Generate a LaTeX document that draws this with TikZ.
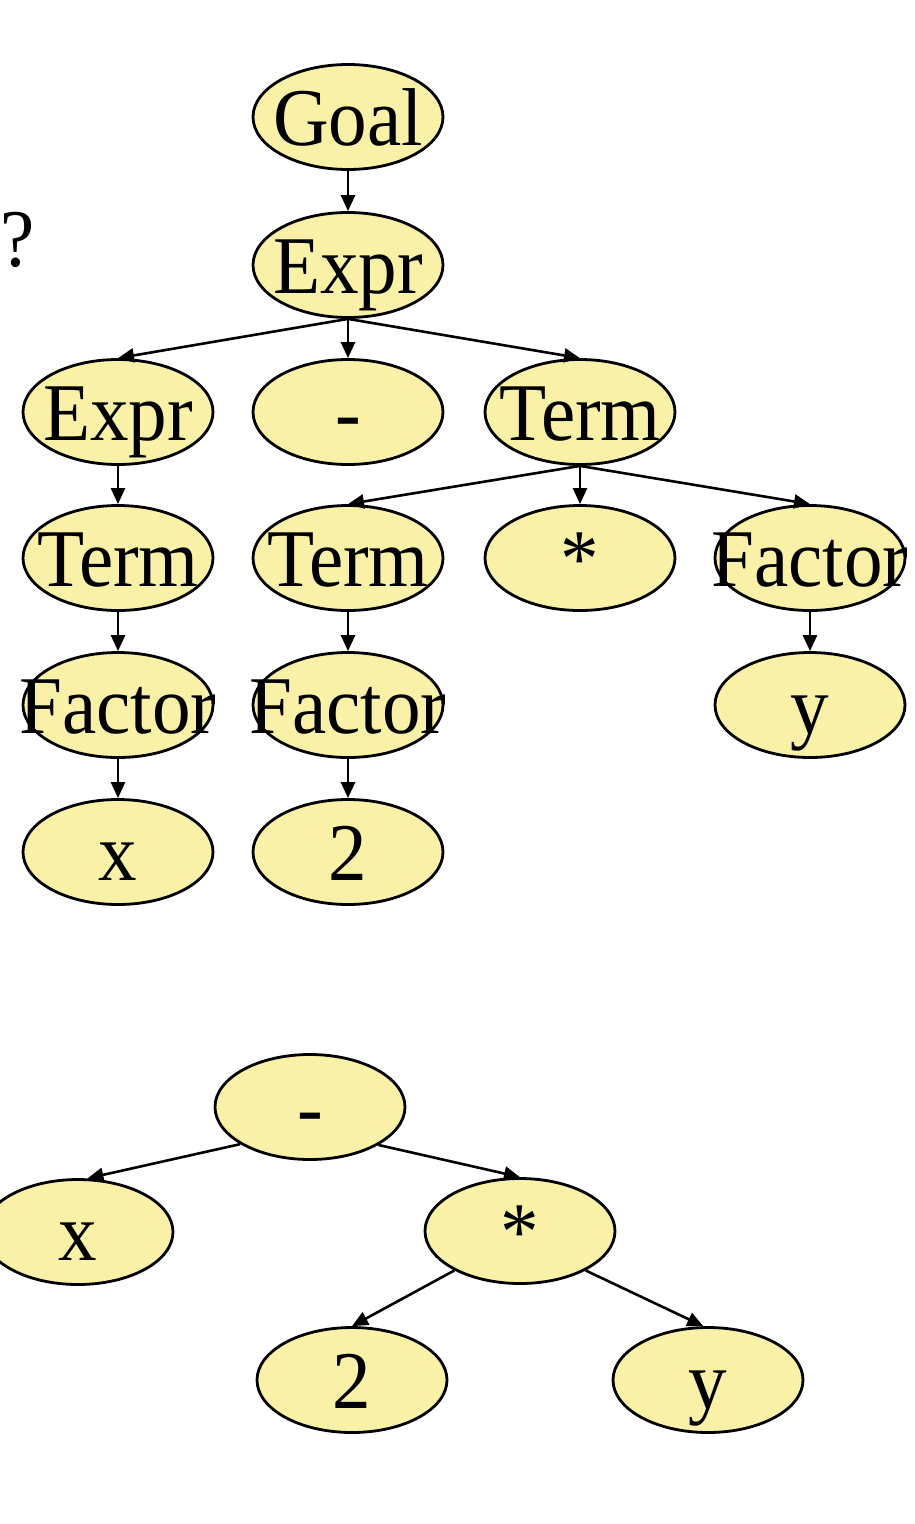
\documentclass[tikz,border=0pt]{standalone}
\usepackage{fontspec}
\setmainfont{Liberation Serif}
\newfontfamily\treefont[FakeStretch=0.94]{Liberation Serif}
\usetikzlibrary{shapes.geometric,arrows.meta}
\definecolor{nodefill}{RGB}{250,241,168}
\tikzset{
  tn/.style={ellipse, draw=black, line width=2.8pt, fill=nodefill,
    minimum width=190pt, minimum height=105pt, inner sep=0pt,
    text height=56pt, text depth=0pt, font=\treefont\fontsize{82}{94}\selectfont},
  edge/.style={line width=2.6pt, -{Triangle[length=16pt,width=14pt]}},
  plain/.style={font=\treefont\fontsize{82}{94}\selectfont, inner sep=0pt}
}
% zero-width label so that wide words overflow the ellipse
\newcommand{\lbl}[1]{\makebox[0pt]{#1}}
\begin{document}
\begin{tikzpicture}[x=1pt,y=-1pt]
\useasboundingbox (0,0) rectangle (914,1524);

\node[plain, anchor=base west] (q) at (0,266) {?};

% parse tree
\node[tn] (goal) at (348,117) {\lbl{Goal}};
\node[tn] (e1) at (348,265) {\lbl{Expr}};
\node[tn] (e2) at (118,412) {\lbl{Expr}};
\node[tn] (minus) at (348,412) {\lbl{-}};
\node[tn] (t1) at (580,412) {\lbl{Term}};
\node[tn] (t2) at (118,558) {\lbl{Term}};
\node[tn] (t3) at (348,558) {\lbl{Term}};
\node[tn] (times) at (580,558) {\lbl{*}};
\node[tn] (f3) at (810,558) {\lbl{Factor}};
\node[tn] (f1) at (118,705) {\lbl{Factor}};
\node[tn] (f2) at (348,705) {\lbl{Factor}};
\node[tn] (vy) at (810,705) {\lbl{y}};
\node[tn] (vx) at (118,852) {\lbl{x}};
\node[tn] (v2) at (348,852) {\lbl{2}};

\draw[edge] (goal.south) -- (e1.north);
\draw[edge] (e1.south) -- (e2.north);
\draw[edge] (e1.south) -- (minus.north);
\draw[edge] (e1.south) -- (t1.north);
\draw[edge] (e2.south) -- (t2.north);
\draw[edge] (t1.south) -- (t3.north);
\draw[edge] (t1.south) -- (times.north);
\draw[edge] (t1.south) -- (f3.north);
\draw[edge] (t2.south) -- (f1.north);
\draw[edge] (t3.south) -- (f2.north);
\draw[edge] (f3.south) -- (vy.north);
\draw[edge] (f1.south) -- (vx.north);
\draw[edge] (f2.south) -- (v2.north);

% abstract syntax tree
\node[tn] (am) at (310,1107) {\lbl{-}};
\node[tn] (ax) at (78,1232) {\lbl{x}};
\node[tn] (at) at (520,1231) {\lbl{*}};
\node[tn] (a2) at (352,1380) {\lbl{2}};
\node[tn] (ay) at (708,1380) {\lbl{y}};

\draw[edge] (am.-152) -- (ax.80);
\draw[edge] (am.-29) -- (at.north);
\draw[edge] (at.-149) -- (a2.north);
\draw[edge] (at.-31) -- (ay.95);
\end{tikzpicture}
\end{document}
